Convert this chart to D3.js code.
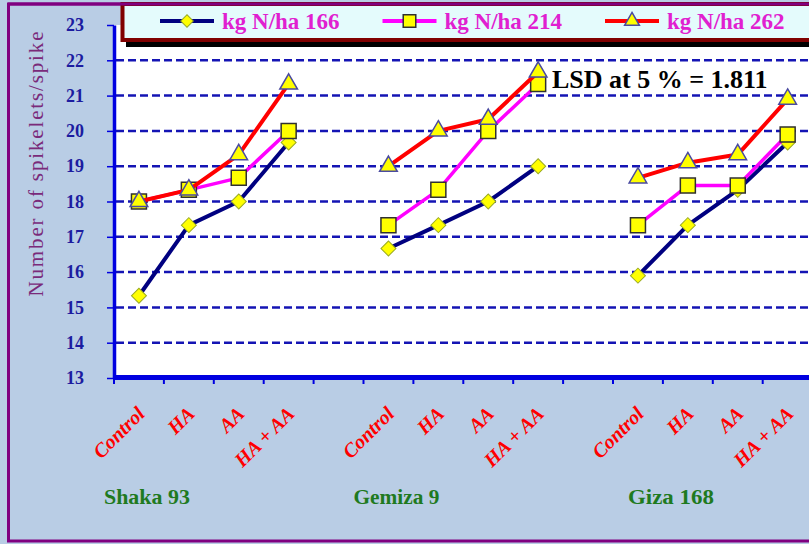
<!DOCTYPE html>
<html><head><meta charset="utf-8">
<script src="https://cdn.jsdelivr.net/npm/d3@7"></script>
<style>html,body{margin:0;padding:0;background:#b9cde5;overflow:hidden}</style>
</head><body>
<svg id="c" width="809" height="544"></svg>
<script>
// ---- data ----
const cultivars = ["Shaka 93", "Gemiza 9", "Giza 168"];
const treatments = ["Control", "HA", "AA", "HA + AA"];
const seriesNames = ["kg N/ha 166", "kg N/ha 214", "kg N/ha 262"];
// values listed cultivar by cultivar, treatments in order
const n166 = [15.33, 17.33, 18.0, 19.67, 16.67, 17.33, 18.0, 19.0, 15.9, 17.33, 18.33, 19.67];
const n214 = [18.0, 18.33, 18.67, 20.0, 17.33, 18.33, 20.0, 21.33, 17.33, 18.45, 18.45, 19.9];
const n262 = [18.0, 18.33, 19.33, 21.33, 19.0, 20.0, 20.33, 21.67, 18.67, 19.1, 19.33, 20.9];
const yTicks = [13, 14, 15, 16, 17, 18, 19, 20, 21, 22, 23];
const lsdLabel = "LSD at 5 % = 1.811";
const yTitle = "Number of spikelets/spike";

// ---- layout ----
const svg = d3.select("#c");
const W = 809, H = 544;
const plotL = 114, slotW = 49.9, plotT = 25, plotB = 378;
const serif = "'Liberation Serif', 'Times New Roman', serif";

// slots: 4 treatments per cultivar, one empty slot between cultivars
const slots = [];
cultivars.forEach((c, ci) => {
  treatments.forEach(t => slots.push(c + "|" + t));
  if (ci < cultivars.length - 1) slots.push("gap" + ci);
});
const x = d3.scaleBand().domain(slots).range([plotL, plotL + slotW * slots.length]);
const plotR = plotL + slotW * slots.length;
const y = d3.scaleLinear().domain([13, 23]).range([plotB, plotT]);

// background & frame
svg.append("rect").attr("width", W).attr("height", H).attr("fill", "#b9cde5");
svg.append("rect").attr("x", 8.5).attr("y", 4).attr("width", 900).attr("height", 537)
  .attr("fill", "#b9cde5").attr("stroke", "#800080").attr("stroke-width", 3);

// plot area
svg.append("rect").attr("x", plotL).attr("y", plotT).attr("width", plotR - plotL).attr("height", plotB - plotT)
  .attr("fill", "#ffffff");

// gridlines
svg.append("g").selectAll("line").data(yTicks.filter(v => v > 13 && v < 23)).join("line")
  .attr("x1", plotL + 2).attr("x2", plotR).attr("y1", d => y(d)).attr("y2", d => y(d))
  .attr("stroke", "#1414b4").attr("stroke-width", 2.5).attr("stroke-dasharray", "8,4");

// left axis
const ya = svg.append("g").attr("transform", `translate(${plotL},0)`)
  .call(d3.axisLeft(y).tickValues(yTicks).tickSize(7).tickSizeOuter(0).tickPadding(23).tickFormat(d3.format("d")));
ya.select(".domain").attr("stroke", "#0000e0").attr("stroke-width", 3.5);
ya.selectAll(".tick line").attr("stroke", "#0000e0").attr("stroke-width", 1.5);
ya.selectAll(".tick text").attr("fill", "#1c1ca0").attr("font-family", serif)
  .attr("font-size", 18).attr("font-weight", "bold");

// bottom axis
const bounds = slots.map(s => x(s)).concat([plotR]);
svg.append("g").selectAll("line").data(bounds).join("line")
  .attr("x1", d => d).attr("x2", d => d).attr("y1", plotB).attr("y2", plotB + 6)
  .attr("stroke", "#0000e0").attr("stroke-width", 2);
svg.append("line").attr("x1", plotL - 1).attr("x2", plotR).attr("y1", plotB - 0.5).attr("y2", plotB - 0.5)
  .attr("stroke", "#0000e0").attr("stroke-width", 5);

// x category labels
const catSlots = slots.filter(s => !s.startsWith("gap"));
svg.append("g").selectAll("text").data(catSlots).join("text")
  .attr("transform", d => `translate(${x(d) + x.bandwidth() / 2 + 7},${plotB + 37}) rotate(-45)`)
  .attr("text-anchor", "end")
  .attr("fill", "#ff0000").attr("font-family", serif)
  .attr("font-size", 20).attr("font-weight", "bold").attr("font-style", "italic")
  .text(d => d.split("|")[1]);

// cultivar labels
const groupOffset = [8, 8, 33];
svg.append("g").selectAll("text").data(cultivars).join("text")
  .attr("x", (d, i) => x(d + "|" + treatments[0]) + x.bandwidth() / 2 + groupOffset[i])
  .attr("y", 504).attr("text-anchor", "middle")
  .attr("fill", "#1f7a1f").attr("font-family", serif)
  .attr("font-size", 22).attr("font-weight", "bold").attr("textLength", 86).attr("lengthAdjust", "spacingAndGlyphs")
  .text(d => d);

// y title
svg.append("text").attr("transform", "translate(43,164) rotate(-90)")
  .attr("text-anchor", "middle").attr("fill", "#7a2a7a")
  .attr("font-family", serif).attr("font-size", 21)
  .attr("textLength", 265).attr("lengthAdjust", "spacing")
  .text(yTitle);

// series
const series = [
  { name: seriesNames[0], values: n166, color: "#000080", width: 4, shape: "diamond" },
  { name: seriesNames[1], values: n214, color: "#ff00ff", width: 3.5, shape: "square" },
  { name: seriesNames[2], values: n262, color: "#ff0000", width: 4, shape: "triangle" }
];
function marker(sel, shape, scale) {
  if (shape === "diamond") {
    sel.append("path").attr("d", d3.symbol(d3.symbolSquare, 112 * scale)())
      .attr("transform", "rotate(45)").attr("fill", "#ffff00").attr("stroke", "#9aaa20").attr("stroke-width", 1);
  } else if (shape === "square") {
    sel.append("path").attr("d", d3.symbol(d3.symbolSquare, 225 * scale)())
      .attr("fill", "#ffff00").attr("stroke", "#303030").attr("stroke-width", 1.5);
  } else {
    sel.append("path").attr("d", d3.symbol(d3.symbolTriangle, 135 * scale)())
      .attr("fill", "#ffff00").attr("stroke", "#4a4aa0").attr("stroke-width", 1.5);
  }
}
const line = d3.line().x(d => x(d.slot) + x.bandwidth() / 2).y(d => y(d.v));
series.forEach(s => {
  const pts = [];
  cultivars.forEach((c, ci) => treatments.forEach((t, ti) =>
    pts.push({ slot: c + "|" + t, v: s.values[ci * treatments.length + ti], ci })));
  const g = svg.append("g");
  cultivars.forEach((c, ci) => {
    g.append("path").datum(pts.filter(p => p.ci === ci)).attr("d", line)
      .attr("fill", "none").attr("stroke", s.color).attr("stroke-width", s.width)
      .attr("stroke-linejoin", "round").attr("stroke-linecap", "round");
  });
  pts.forEach(p => {
    const m = g.append("g").attr("transform", `translate(${x(p.slot) + x.bandwidth() / 2},${y(p.v)})`);
    marker(m, s.shape, 1);
  });
});

// LSD annotation
svg.append("text").attr("x", 552).attr("y", 88).attr("fill", "#000")
  .attr("font-family", serif).attr("font-size", 26)
  .attr("font-weight", "bold").text(lsdLabel);

// legend
const lg = svg.append("g");
lg.append("rect").attr("x", 126).attr("y", 9).attr("width", 760).attr("height", 38).attr("fill", "#000");
lg.append("rect").attr("x", 122.5).attr("y", 4).attr("width", 760).attr("height", 36)
  .attr("fill", "#e4fbfc").attr("stroke", "#800000").attr("stroke-width", 4);
svg.append("line").attr("x1", 8).attr("x2", 809).attr("y1", 4).attr("y2", 4).attr("stroke", "#800080").attr("stroke-width", 3);
series.forEach((s, i) => {
  const ex = 160 + i * 222.5;
  const e = lg.append("g").attr("transform", `translate(${ex},21)`);
  e.append("line").attr("x1", 0).attr("x2", 54).attr("stroke", s.color).attr("stroke-width", 4);
  const m = e.append("g").attr("transform", "translate(27,0)");
  marker(m, s.shape, 0.7);
  e.append("text").attr("x", 62).attr("y", 8).attr("fill", "#e020d0")
    .attr("font-family", serif).attr("font-size", 23)
    .attr("font-weight", "bold").text(s.name);
});
</script>
</body></html>
